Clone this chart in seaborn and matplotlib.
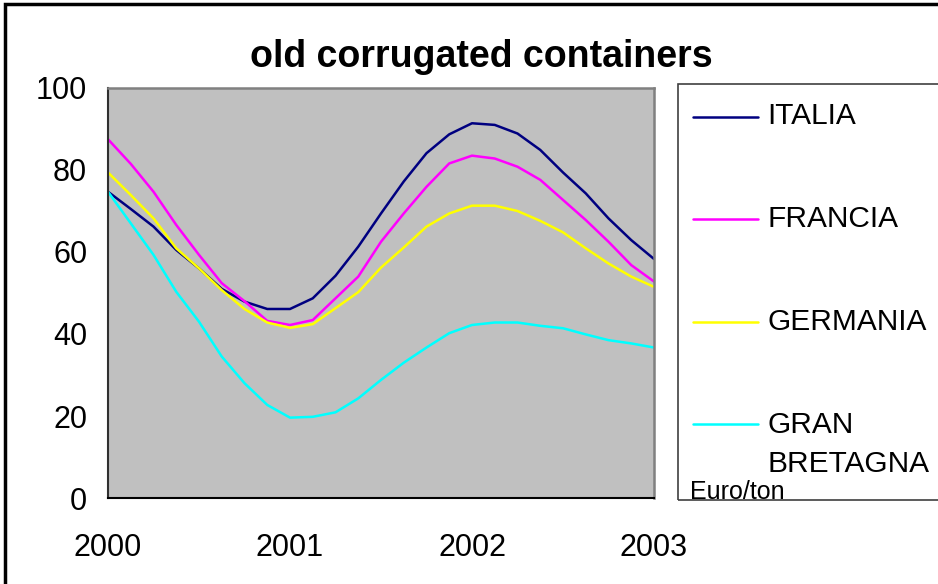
import numpy as np
import pandas as pd
import matplotlib
matplotlib.use("Agg")
import matplotlib.pyplot as plt
from matplotlib.lines import Line2D
from matplotlib.patches import Rectangle
from matplotlib import font_manager
import seaborn as sns

# month offsets from Jan 2000 (one reading every 1.5 months)
months = [0, 1.5, 3, 4.5, 6, 7.5, 9, 10.5, 12, 13.5, 15, 16.5, 18,
          19.5, 21, 22.5, 24, 25.5, 27, 28.5, 30, 31.5, 33, 34.5, 36]

italia = [74.7, 70.5, 66.2, 60.5, 56.0, 51.0, 47.9, 46.1, 46.1, 48.7, 54.2, 61.3, 69.4,
          77.2, 84.1, 88.7, 91.4, 91.0, 88.9, 84.9, 79.4, 74.3, 68.2, 62.9, 58.3]
francia = [87.5, 81.5, 74.7, 66.6, 59.3, 52.4, 48.0, 43.2, 42.2, 43.4, 48.7, 54.0, 62.5,
           69.4, 75.9, 81.6, 83.5, 82.8, 80.8, 77.6, 72.7, 67.8, 62.5, 56.8, 52.8]
germania = [79.4, 73.9, 68.2, 60.9, 56.0, 50.7, 46.1, 42.8, 41.5, 42.4, 46.3, 50.2, 56.2,
            61.1, 66.2, 69.4, 71.3, 71.3, 70.0, 67.6, 64.8, 60.9, 57.2, 54.0, 51.5]
gran_bretagna = [74.7, 67.0, 59.3, 50.3, 43.0, 34.5, 28.0, 22.7, 19.6, 19.8, 20.9, 24.3, 28.8,
                 33.0, 36.7, 40.2, 42.2, 42.8, 42.8, 42.0, 41.4, 39.9, 38.5, 37.7, 36.7]

paesi = ["ITALIA", "FRANCIA", "GERMANIA", "GRAN BRETAGNA"]
etichette = ["ITALIA", "FRANCIA", "GERMANIA", "GRAN\nBRETAGNA"]
colori = ["#000080", "#FF00FF", "#FFFF00", "#00FFFF"]
anni = [2000, 2001, 2002, 2003]

# long format for seaborn
df = pd.concat([
    pd.DataFrame({"anno": [2000 + m / 12 for m in months], "valore": v, "paese": p})
    for p, v in zip(paesi, [italia, francia, germania, gran_bretagna])
])

sns.set_style("white")
plt.rcParams["font.family"] = ["Liberation Sans", "DejaVu Sans"]
plt.rcParams["text.color"] = "black"
plt.rcParams["xtick.color"] = "black"
plt.rcParams["ytick.color"] = "black"

# the original uses a tall, tight Arial; use the narrow cut if it is installed
installed = {f.name for f in font_manager.fontManager.ttflist}
narrow = "Liberation Sans Narrow" in installed
fam = ["Liberation Sans Narrow"] if narrow else ["Liberation Sans"]
tick_size = 25 if narrow else 22
leg_size = 26 if narrow else 21.5

W, H = 938, 584
fig = plt.figure(figsize=(W / 100, H / 100), dpi=100)
ax = fig.add_axes([108 / W, 1 - 498 / H, (654 - 108) / W, (498 - 88) / H])
ax.set_facecolor("#C0C0C0")

sns.lineplot(data=df, x="anno", y="valore", hue="paese", hue_order=paesi,
             palette=dict(zip(paesi, colori)), linewidth=1.8, legend=False, ax=ax)

ax.set_xlim(2000, 2003)
ax.set_ylim(0, 100)
ax.set_xticks(anni)
ax.set_xticklabels([str(a) for a in anni])
ax.set_yticks(range(0, 101, 20))
ax.set_xlabel("")
ax.set_ylabel("")
ax.grid(False)

for s in ["top", "right"]:
    ax.spines[s].set_color("#808080")
    ax.spines[s].set_linewidth(1.8)
ax.spines["left"].set_color("#303030")
ax.spines["left"].set_linewidth(1.5)
ax.spines["bottom"].set_color("black")
ax.spines["bottom"].set_linewidth(1.5)

ax.tick_params(axis="x", direction="inout", length=16, width=1, color="#202020",
               labelcolor="black", pad=16 if narrow else 17)
ax.tick_params(axis="y", direction="inout", length=14, width=1, color="#202020",
               labelcolor="black", pad=8)
for t in ax.get_xticklabels() + ax.get_yticklabels():
    t.set_fontfamily(fam)
    t.set_fontsize(tick_size)

# title
fig.text(481 / W, 1 - 57 / H, "old corrugated containers", ha="center", va="center",
         fontsize=27, fontweight="bold", color="black")

# legend box (runs off the right edge like the original)
fig.add_artist(Rectangle((678 / W, 1 - 500 / H), 0.5, (500 - 84) / H,
                         transform=fig.transFigure, fill=False,
                         edgecolor="#404040", lw=1.2, clip_on=False))

handle_y = [117, 219, 322, 424]
label_base = [124, 227, 330, 472]  # last one is the baseline of "BRETAGNA"
for c, lab, hy, by in zip(colori, etichette, handle_y, label_base):
    fig.add_artist(Line2D([693 / W, 758 / W], [1 - hy / H, 1 - hy / H],
                          transform=fig.transFigure, color=c, lw=1.8))
    fig.text(767 / W, 1 - by / H, lab, ha="left", va="baseline", fontsize=leg_size,
             family=fam, linespacing=1.25 if narrow else 1.5, color="black")

fig.text(690 / W, 1 - 499 / H, "Euro/ton", ha="left", va="baseline", fontsize=18,
         color="black")

# outer chart border
fig.add_artist(Rectangle((5 / W, -0.5), 2, 1.5 - 4 / H, transform=fig.transFigure,
                         fill=False, edgecolor="black", lw=2.5, clip_on=False))

fig.savefig("out.png", dpi=100)
